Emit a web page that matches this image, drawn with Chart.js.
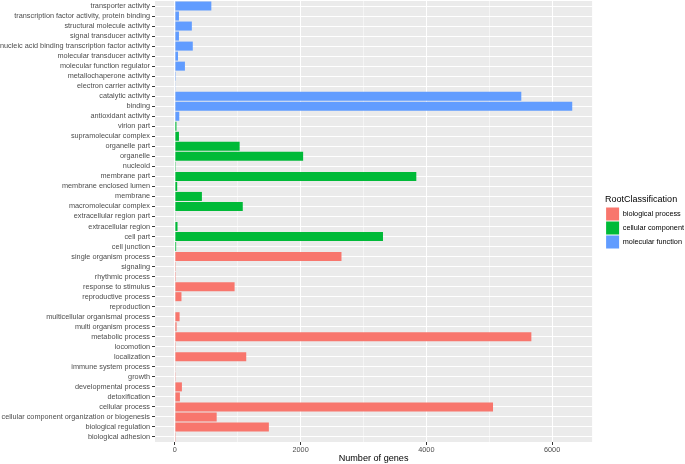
<!DOCTYPE html>
<html>
<head>
<meta charset="utf-8">
<script src="https://cdn.jsdelivr.net/npm/chart.js@4/dist/chart.umd.min.js"></script>
<style>
  html, body { margin: 0; padding: 0; background: #fff; }
  #wrap { width: 685px; height: 464px; }
</style>
</head>
<body>
<div id="wrap"><canvas id="chart"></canvas></div>
<script>
// GO terms, top to bottom as they appear on the axis
const categories = [
  "transporter activity",
  "transcription factor activity, protein binding",
  "structural molecule activity",
  "signal transducer activity",
  "nucleic acid binding transcription factor activity",
  "molecular transducer activity",
  "molecular function regulator",
  "metallochaperone activity",
  "electron carrier activity",
  "catalytic activity",
  "binding",
  "antioxidant activity",
  "virion part",
  "supramolecular complex",
  "organelle part",
  "organelle",
  "nucleoid",
  "membrane part",
  "membrane enclosed lumen",
  "membrane",
  "macromolecular complex",
  "extracellular region part",
  "extracellular region",
  "cell part",
  "cell junction",
  "single organism process",
  "signaling",
  "rhythmic process",
  "response to stimulus",
  "reproductive process",
  "reproduction",
  "multicellular organismal process",
  "multi organism process",
  "metabolic process",
  "locomotion",
  "localization",
  "immune system process",
  "growth",
  "developmental process",
  "detoxification",
  "cellular process",
  "cellular component organization or biogenesis",
  "biological regulation",
  "biological adhesion"
];

const geneCounts = [
  580, 65, 270, 65, 285, 50, 160, 2, 6, 5510, 6320, 70,
  25, 65, 1030, 2040, 3, 3840, 37, 430, 1080, 10, 42, 3310, 20,
  2650, 3, 2, 950, 105, 8, 75, 27, 5670, 3, 1135, 10, 12, 112, 80, 5060, 665, 1495, 3
];

const rootClass = [
  "MF", "MF", "MF", "MF", "MF", "MF", "MF", "MF", "MF", "MF", "MF", "MF",
  "CC", "CC", "CC", "CC", "CC", "CC", "CC", "CC", "CC", "CC", "CC", "CC", "CC",
  "BP", "BP", "BP", "BP", "BP", "BP", "BP", "BP", "BP", "BP", "BP", "BP", "BP", "BP", "BP", "BP", "BP", "BP", "BP"
];

const classCodes = ["BP", "CC", "MF"];
const classNames = ["biological process", "cellular component", "molecular function"];
const classColors = ["#F8766D", "#00BA38", "#619CFF"];

const xTicks = [0, 1000, 2000, 3000, 4000, 5000, 6000];

const FONT = "'Liberation Sans', Arial, sans-serif";

// grey ggplot-like panel behind the grid
const panelBg = {
  id: "panelBg",
  beforeDraw(chart) {
    const { ctx, chartArea: a } = chart;
    ctx.save();
    ctx.fillStyle = "#EBEBEB";
    ctx.fillRect(a.left, a.top, a.right - a.left, a.bottom - a.top);
    ctx.restore();
  }
};

// push the legend away from the panel and centre it on the panel, like ggplot
const legendShift = {
  id: "legendShift",
  afterLayout(chart) {
    const lg = chart.legend;
    if (!lg) return;
    lg.left += 13;
    lg.right += 13;
    lg.top -= 10.5;
    lg.bottom -= 10.5;
    if (lg.adjustHitBoxes) lg.adjustHitBoxes();
  }
};

const datasets = classCodes.map((code, i) => ({
  label: classNames[i],
  data: geneCounts.map((v, j) => (rootClass[j] === code ? v : null)),
  backgroundColor: classColors[i],
  borderWidth: 0,
  barPercentage: 0.9,
  categoryPercentage: 1
}));

const isMajor = (ctx) => ctx.tick && ctx.tick.value % 2000 === 0;

new Chart(document.getElementById("chart"), {
  type: "bar",
  data: { labels: categories, datasets: datasets },
  plugins: [panelBg, legendShift],
  options: {
    indexAxis: "y",
    responsive: true,
    maintainAspectRatio: false,
    animation: false,
    layout: { padding: { top: 1, right: 4, bottom: 0, left: 0 } },
    scales: {
      x: {
        stacked: true,
        min: -316,
        max: 6636,
        afterBuildTicks: (axis) => {
          axis.ticks = xTicks.map((v) => ({ value: v }));
        },
        afterFit: (axis) => {
          axis.height = 22;
        },
        border: { display: false },
        grid: {
          color: "#FFFFFF",
          lineWidth: (ctx) => (isMajor(ctx) ? 1 : 0.5),
          tickColor: (ctx) => (isMajor(ctx) ? "#333333" : "rgba(0,0,0,0)"),
          tickLength: 3
        },
        ticks: {
          autoSkip: false,
          maxRotation: 0,
          padding: 1,
          color: "#4D4D4D",
          font: { family: FONT, size: 7.3 },
          callback: (v) => (v % 2000 === 0 ? String(v) : "")
        },
        title: {
          display: true,
          text: "Number of genes",
          color: "#000000",
          font: { family: FONT, size: 9.1 },
          padding: { top: 0, bottom: 0.5 }
        }
      },
      y: {
        stacked: true,
        afterFit: (axis) => {
          axis.width = 155;
          axis.paddingTop = 0;
          axis.paddingBottom = 0;
        },
        border: { display: false },
        grid: {
          color: "#FFFFFF",
          lineWidth: 1,
          offset: false,
          tickColor: "#333333",
          tickLength: 3
        },
        ticks: {
          autoSkip: false,
          padding: 2,
          color: "#4D4D4D",
          font: { family: FONT, size: 7.3 }
        }
      }
    },
    plugins: {
      legend: {
        position: "right",
        title: {
          display: true,
          position: "start",
          text: "RootClassification",
          color: "#000000",
          font: { family: FONT, size: 9 },
          padding: { top: 0, bottom: 1 }
        },
        labels: {
          boxWidth: 13,
          boxHeight: 13,
          padding: 1,
          color: "#000000",
          font: { family: FONT, size: 7.3 }
        }
      },
      tooltip: { enabled: false }
    }
  }
});
</script>
</body>
</html>
